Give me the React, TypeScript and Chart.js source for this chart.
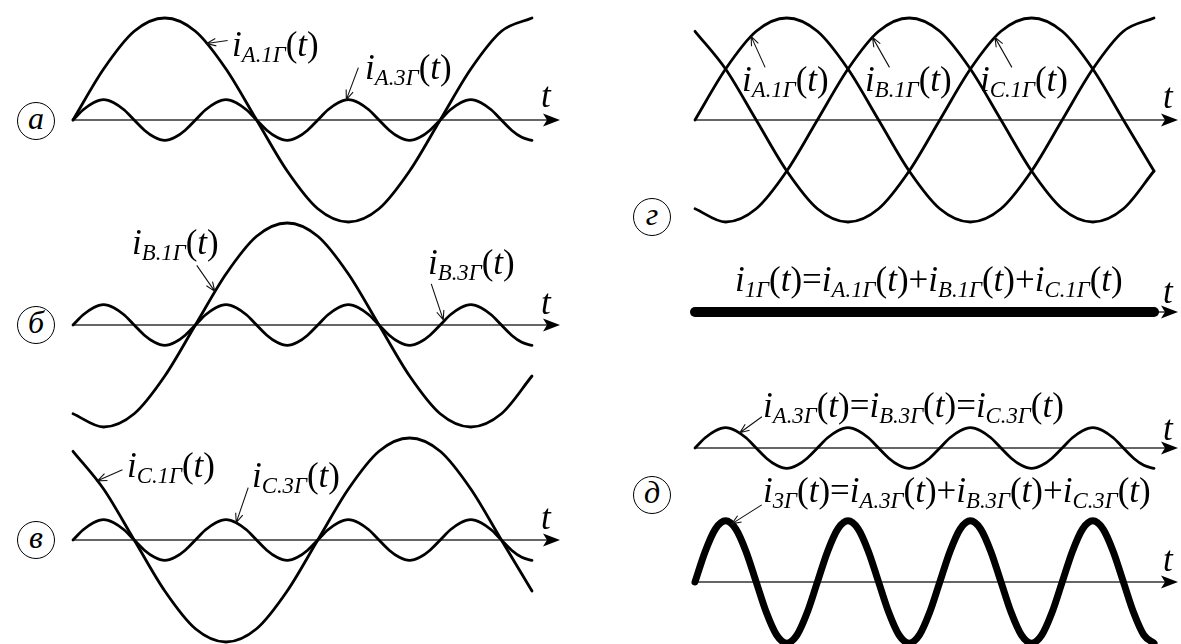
import React, { useEffect, useRef } from 'react';
import { Chart, registerables } from 'chart.js';

Chart.register(...registerables);

// Electrical angle ωt in degrees: fundamentals sampled every 30°, third harmonics every 10°
const ANGLE_1 = [0, 30, 60, 90, 120, 150, 180, 210, 240, 270, 300, 330, 360, 390, 420, 450];
const ANGLE_3 = [
  0, 10, 20, 30, 40, 50, 60, 70, 80, 90, 100, 110, 120, 130, 140, 150,
  160, 170, 180, 190, 200, 210, 220, 230, 240, 250, 260, 270, 280, 290, 300,
  310, 320, 330, 340, 350, 360, 370, 380, 390, 400, 410, 420, 430, 440, 450,
];

// Fundamental phase currents (per unit of the fundamental amplitude)
const I_A1 = [0, 0.5, 0.87, 1, 0.87, 0.5, 0, -0.5, -0.87, -1, -0.87, -0.5, 0, 0.5, 0.87, 1];
const I_B1 = [-0.87, -1, -0.87, -0.5, 0, 0.5, 0.87, 1, 0.87, 0.5, 0, -0.5, -0.87, -1, -0.87, -0.5];
const I_C1 = [0.87, 0.5, 0, -0.5, -0.87, -1, -0.87, -0.5, 0, 0.5, 0.87, 1, 0.87, 0.5, 0, -0.5];
// Sum of the three fundamentals
const I_1 = [0, 0, 0, 0, 0, 0, 0, 0, 0, 0, 0, 0, 0, 0, 0, 0];

// Third-harmonic current of phase A
const I_A3 = [
  0, 0.1, 0.17, 0.2, 0.17, 0.1, 0, -0.1, -0.17, -0.2, -0.17, -0.1,
  0, 0.1, 0.17, 0.2, 0.17, 0.1, 0, -0.1, -0.17, -0.2, -0.17, -0.1,
  0, 0.1, 0.17, 0.2, 0.17, 0.1, 0, -0.1, -0.17, -0.2, -0.17, -0.1,
  0, 0.1, 0.17, 0.2, 0.17, 0.1, 0, -0.1, -0.17, -0.2,
];
// Third harmonics are in phase in all three phases
const I_B3 = I_A3;
const I_C3 = I_A3;
// Sum of the three third harmonics
const I_3 = [
  0, 0.3, 0.52, 0.6, 0.52, 0.3, 0, -0.3, -0.52, -0.6, -0.52, -0.3,
  0, 0.3, 0.52, 0.6, 0.52, 0.3, 0, -0.3, -0.52, -0.6, -0.52, -0.3,
  0, 0.3, 0.52, 0.6, 0.52, 0.3, 0, -0.3, -0.52, -0.6, -0.52, -0.3,
  0, 0.3, 0.52, 0.6, 0.52, 0.3, 0, -0.3, -0.52, -0.6,
];

// Drawing scale
const PX_PER_DEG = 1.02;
const PX_PER_UNIT = 102;
const PAD_L = 14;
const PAD_R = 3;

type Curve = { x: number[]; y: number[]; width: number };
type Pointer = { x: number; y: number; dx: number; dy: number };
type PanelDef = {
  areaLeft: number;
  areaRight: number;
  axisY: number;
  height: number;
  curves: Curve[];
  pointers: Pointer[];
};

const LEFT = { areaLeft: 73, areaRight: 560 };
const RIGHT = { areaLeft: 695, areaRight: 1178 };
const THIN = 2.8;

const PANELS: PanelDef[] = [
  {
    ...LEFT, axisY: 120, height: 240,
    curves: [
      { x: ANGLE_1, y: I_A1, width: THIN },
      { x: ANGLE_3, y: I_A3, width: THIN },
    ],
    pointers: [
      { x: 131, y: 0.75, dx: 21, dy: -3 },
      { x: 268, y: 0.2, dx: 12, dy: -32 },
    ],
  },
  {
    ...LEFT, axisY: 325, height: 240,
    curves: [
      { x: ANGLE_1, y: I_B1, width: THIN },
      { x: ANGLE_3, y: I_B3, width: THIN },
    ],
    pointers: [
      { x: 139, y: 0.33, dx: -18, dy: -26 },
      { x: 363, y: 0.05, dx: -12, dy: -36 },
    ],
  },
  {
    ...LEFT, axisY: 540, height: 240,
    curves: [
      { x: ANGLE_1, y: I_C1, width: THIN },
      { x: ANGLE_3, y: I_C3, width: THIN },
    ],
    pointers: [
      { x: 24, y: 0.58, dx: 25, dy: -11 },
      { x: 160, y: 0.17, dx: 12, dy: -35 },
    ],
  },
  {
    ...RIGHT, axisY: 120, height: 240,
    curves: [
      { x: ANGLE_1, y: I_A1, width: THIN },
      { x: ANGLE_1, y: I_B1, width: THIN },
      { x: ANGLE_1, y: I_C1, width: THIN },
    ],
    pointers: [
      { x: 55, y: 0.82, dx: 14, dy: 31 },
      { x: 174, y: 0.81, dx: 17, dy: 30 },
      { x: 294, y: 0.81, dx: 17, dy: 30 },
    ],
  },
  {
    ...RIGHT, axisY: 312, height: 40,
    curves: [{ x: ANGLE_1, y: I_1, width: 10 }],
    pointers: [],
  },
  {
    ...RIGHT, axisY: 448, height: 80,
    curves: [{ x: ANGLE_3, y: I_A3, width: THIN }],
    pointers: [{ x: 44, y: 0.15, dx: 22, dy: -16 }],
  },
  {
    ...RIGHT, axisY: 582, height: 170,
    curves: [{ x: ANGLE_3, y: I_3, width: 7 }],
    pointers: [{ x: 36, y: 0.57, dx: 30, dy: -19 }],
  },
];

function Panel({ def }: { def: PanelDef }) {
  const ref = useRef<HTMLCanvasElement>(null);
  const width = def.areaRight - def.areaLeft + PAD_L + PAD_R;

  useEffect(() => {
    const canvas = ref.current;
    if (!canvas) return;
    const half = def.height / 2 / PX_PER_UNIT;

    // time axis through zero with a filled arrowhead
    const timeAxis = {
      id: 'timeAxis',
      beforeDatasetsDraw(chart: any) {
        const { ctx, chartArea, scales } = chart;
        const y0 = scales.y.getPixelForValue(0);
        const tip = chartArea.right;
        ctx.save();
        ctx.strokeStyle = '#333';
        ctx.lineWidth = 1.4;
        ctx.beginPath();
        ctx.moveTo(chartArea.left, y0);
        ctx.lineTo(tip - 12, y0);
        ctx.stroke();
        ctx.fillStyle = '#000';
        ctx.beginPath();
        ctx.moveTo(tip, y0);
        ctx.lineTo(tip - 17, y0 - 6.5);
        ctx.lineTo(tip - 13, y0);
        ctx.lineTo(tip - 17, y0 + 6.5);
        ctx.closePath();
        ctx.fill();
        ctx.restore();
      },
    };

    // thin leader arrows from the captions to the curves
    const pointerArrows = {
      id: 'pointerArrows',
      afterDatasetsDraw(chart: any) {
        const { ctx, scales } = chart;
        ctx.save();
        ctx.strokeStyle = '#111';
        ctx.lineWidth = 1.1;
        def.pointers.forEach((p) => {
          const tx = scales.x.getPixelForValue(p.x);
          const ty = scales.y.getPixelForValue(p.y);
          const sx = tx + p.dx;
          const sy = ty + p.dy;
          const ang = Math.atan2(sy - ty, sx - tx);
          ctx.beginPath();
          ctx.moveTo(sx, sy);
          ctx.lineTo(tx, ty);
          ctx.moveTo(tx + 10 * Math.cos(ang + 0.38), ty + 10 * Math.sin(ang + 0.38));
          ctx.lineTo(tx, ty);
          ctx.lineTo(tx + 10 * Math.cos(ang - 0.38), ty + 10 * Math.sin(ang - 0.38));
          ctx.stroke();
        });
        ctx.restore();
      },
    };

    const chart = new Chart(canvas, {
      type: 'line',
      data: {
        datasets: def.curves.map((c) => ({
          data: c.x.map((a, i) => ({ x: a, y: c.y[i] })),
          borderColor: '#000',
          borderWidth: c.width,
          pointRadius: 0,
          fill: false,
          cubicInterpolationMode: 'monotone' as const,
          borderCapStyle: 'round' as const,
          borderJoinStyle: 'round' as const,
          clip: 10,
        })),
      },
      options: {
        animation: false,
        responsive: false,
        devicePixelRatio: 1,
        events: [],
        layout: { padding: { left: PAD_L, right: PAD_R, top: 0, bottom: 0 } },
        scales: {
          x: { type: 'linear', display: false, min: 0, max: (def.areaRight - def.areaLeft) / PX_PER_DEG },
          y: { type: 'linear', display: false, min: -half, max: half },
        },
        plugins: { legend: { display: false }, tooltip: { enabled: false } },
      },
      plugins: [timeAxis, pointerArrows],
    });
    return () => chart.destroy();
  }, [def]);

  return (
    <canvas
      ref={ref}
      width={width}
      height={def.height}
      style={{
        position: 'absolute',
        left: def.areaLeft - PAD_L,
        top: def.axisY - def.height / 2,
        width,
        height: def.height,
      }}
    />
  );
}

const SERIF = "'Liberation Serif', 'Times New Roman', Times, serif";
const FS = 35;
const upright: React.CSSProperties = { fontStyle: 'normal' };

function Cur({ sub }: { sub: string }) {
  return (
    <>
      i<span style={{ fontSize: '0.65em', verticalAlign: '-6px' }}>{sub}</span>
      <span style={upright}>(</span>t<span style={upright}>)</span>
    </>
  );
}

function Caption({ x, base, children }: { x: number; base: number; children: React.ReactNode }) {
  return (
    <div
      style={{
        position: 'absolute',
        left: x,
        top: base - 0.8375 * FS,
        fontFamily: SERIF,
        fontStyle: 'italic',
        fontSize: FS,
        lineHeight: 1,
        whiteSpace: 'nowrap',
        color: '#000',
      }}
    >
      {children}
    </div>
  );
}

function Tag({ cx, cy, ch }: { cx: number; cy: number; ch: string }) {
  return (
    <div
      style={{
        position: 'absolute',
        left: cx - 19,
        top: cy - 19,
        width: 38,
        height: 38,
        boxSizing: 'border-box',
        border: '1.6px solid #000',
        borderRadius: '50%',
        fontFamily: SERIF,
        fontStyle: 'italic',
        fontSize: 32,
        lineHeight: '30px',
        textAlign: 'center',
        color: '#000',
      }}
    >
      {ch}
    </div>
  );
}

const Eq = () => <span style={upright}>=</span>;
const Plus = () => <span style={upright}>+</span>;

export default function App() {
  return (
    <div
      style={{
        position: 'absolute',
        left: 0,
        top: 0,
        width: 1181,
        height: 644,
        overflow: 'hidden',
        background: '#fff',
      }}
    >
      {PANELS.map((p, i) => (
        <Panel key={i} def={p} />
      ))}

      <Tag cx={36} cy={121} ch="а" />
      <Tag cx={36} cy={325} ch="б" />
      <Tag cx={36} cy={540} ch="в" />
      <Tag cx={652} cy={217} ch="г" />
      <Tag cx={652} cy={495} ch="д" />

      <Caption x={232} base={56}><Cur sub="A.1Г" /></Caption>
      <Caption x={365} base={79}><Cur sub="A.3Г" /></Caption>
      <Caption x={132} base={254}><Cur sub="B.1Г" /></Caption>
      <Caption x={428} base={274}><Cur sub="B.3Г" /></Caption>
      <Caption x={127} base={477}><Cur sub="C.1Г" /></Caption>
      <Caption x={252} base={487}><Cur sub="C.3Г" /></Caption>

      <Caption x={742} base={91}><Cur sub="A.1Г" /></Caption>
      <Caption x={865} base={91}><Cur sub="B.1Г" /></Caption>
      <Caption x={980} base={91}><Cur sub="C.1Г" /></Caption>

      <Caption x={735} base={291}>
        <Cur sub="1Г" /><Eq /><Cur sub="A.1Г" /><Plus /><Cur sub="B.1Г" /><Plus /><Cur sub="C.1Г" />
      </Caption>
      <Caption x={763} base={417}>
        <Cur sub="A.3Г" /><Eq /><Cur sub="B.3Г" /><Eq /><Cur sub="C.3Г" />
      </Caption>
      <Caption x={763} base={502}>
        <Cur sub="3Г" /><Eq /><Cur sub="A.3Г" /><Plus /><Cur sub="B.3Г" /><Plus /><Cur sub="C.3Г" />
      </Caption>

      <Caption x={541} base={107}>t</Caption>
      <Caption x={541} base={314}>t</Caption>
      <Caption x={541} base={529}>t</Caption>
      <Caption x={1163} base={108}>t</Caption>
      <Caption x={1163} base={303}>t</Caption>
      <Caption x={1163} base={440}>t</Caption>
      <Caption x={1163} base={571}>t</Caption>
    </div>
  );
}
